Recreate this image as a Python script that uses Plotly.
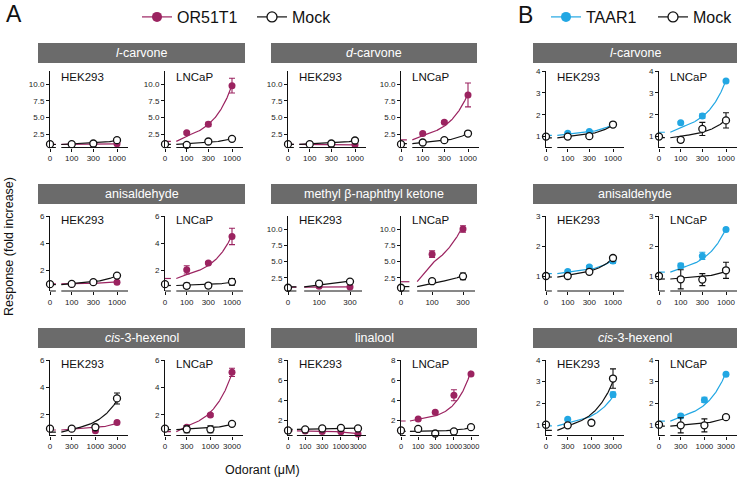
import numpy as np
import plotly.graph_objects as go

W, H = 739, 486

# ---------------- data (fold increase, mean and error) ----------------
conc_carvone = [0, 100, 300, 1000]
conc_mnk = [0, 100, 300]
conc_hexenol = [0, 300, 1000, 3000]
conc_linalool = [0, 100, 300, 1000, 3000]

# Panel A : OR51T1 vs Mock
lcarv_hek_or = [1.0, 0.95, 0.95, 1.05];   lcarv_hek_or_err = [0, 0.05, 0.05, 0.08]
lcarv_hek_mock = [1.0, 1.0, 1.1, 1.6];    lcarv_hek_mock_err = [0, 0.05, 0.05, 0.1]
lcarv_lnc_or = [1.0, 2.7, 4.0, 9.8];      lcarv_lnc_or_err = [0, 0.2, 0.3, 1.1]
lcarv_lnc_mock = [1.0, 0.9, 1.4, 1.8];    lcarv_lnc_mock_err = [0, 0.1, 0.15, 0.2]

dcarv_hek_or = [1.0, 1.0, 0.9, 0.9];      dcarv_hek_or_err = [0, 0.05, 0.05, 0.05]
dcarv_hek_mock = [1.0, 1.0, 1.1, 1.55];   dcarv_hek_mock_err = [0, 0.05, 0.05, 0.1]
dcarv_lnc_or = [1.0, 2.6, 4.3, 8.4];      dcarv_lnc_or_err = [0, 0.2, 0.2, 1.8]
dcarv_lnc_mock = [1.0, 1.25, 1.6, 2.6];   dcarv_lnc_mock_err = [0, 0.1, 0.25, 0.15]

anis_hek_or = [1.0, 1.0, 1.15, 1.15];     anis_hek_or_err = [0, 0.05, 0.05, 0.08]
anis_hek_mock = [1.0, 1.02, 1.15, 1.63];  anis_hek_mock_err = [0, 0.05, 0.05, 0.08]
anis_lnc_or = [1.0, 2.05, 2.56, 4.5];     anis_lnc_or_err = [0, 0.3, 0.1, 0.6]
anis_lnc_mock = [1.0, 0.88, 0.9, 1.17];   anis_lnc_mock_err = [0, 0.2, 0.15, 0.25]

mnk_hek_or = [1.0, 1.23, 1.1];            mnk_hek_or_err = [0, 0.05, 0.05]
mnk_hek_mock = [1.0, 1.64, 1.94];         mnk_hek_mock_err = [0, 0.1, 0.1]
mnk_lnc_or = [1.0, 6.15, 10.0];           mnk_lnc_or_err = [0, 0.5, 0.5]
mnk_lnc_mock = [1.0, 2.0, 2.75];          mnk_lnc_mock_err = [0, 0.3, 0.5]

hex_hek_or = [1.0, 1.0, 0.85, 1.45];      hex_hek_or_err = [0, 0.05, 0.05, 0.08]
hex_hek_mock = [1.0, 1.0, 1.1, 3.2];      hex_hek_mock_err = [0, 0.05, 0.1, 0.4]
hex_lnc_or = [1.0, 1.1, 2.0, 5.1];        hex_lnc_or_err = [0, 0.1, 0.1, 0.3]
hex_lnc_mock = [1.0, 0.95, 0.95, 1.35];   hex_lnc_mock_err = [0, 0.25, 0.25, 0.08]

lin_hek_or = [1.0, 0.95, 0.9, 0.88, 0.65];   lin_hek_or_err = [0, 0.05, 0.05, 0.05, 0.05]
lin_hek_mock = [1.0, 1.1, 1.2, 1.25, 1.2];   lin_hek_mock_err = [0, 0.05, 0.05, 0.05, 0.05]
lin_lnc_or = [1.0, 2.13, 2.8, 4.5, 6.6];     lin_lnc_or_err = [0, 0.1, 0.1, 0.55, 0.1]
lin_lnc_mock = [1.0, 1.15, 0.7, 0.9, 1.33];  lin_lnc_mock_err = [0, 0.05, 0.05, 0.1, 0.1]

# Panel B : TAAR1 vs Mock
b_lcarv_hek_ta = [1.0, 1.15, 1.23, 1.55];   b_lcarv_hek_ta_err = [0, 0.05, 0.05, 0.05]
b_lcarv_hek_mock = [1.0, 1.0, 1.02, 1.55];  b_lcarv_hek_mock_err = [0, 0.04, 0.08, 0.06]
b_lcarv_lnc_ta = [1.0, 1.63, 1.94, 3.54];   b_lcarv_lnc_ta_err = [0, 0.05, 0.1, 0.05]
b_lcarv_lnc_mock = [1.0, 0.85, 1.35, 1.74]; b_lcarv_lnc_mock_err = [0, 0.12, 0.3, 0.35]

b_anis_hek_ta = [1.0, 1.15, 1.3, 1.5];      b_anis_hek_ta_err = [0, 0.04, 0.05, 0.08]
b_anis_hek_mock = [1.0, 1.0, 1.14, 1.6];    b_anis_hek_mock_err = [0, 0.03, 0.03, 0.05]
b_anis_lnc_ta = [1.0, 1.34, 1.67, 2.55];    b_anis_lnc_ta_err = [0, 0.08, 0.12, 0.04]
b_anis_lnc_mock = [1.0, 0.89, 0.88, 1.19];  b_anis_lnc_mock_err = [0, 0.32, 0.2, 0.27]

b_hex_hek_ta = [1.0, 1.25, 1.1, 2.4];       b_hex_hek_ta_err = [0, 0.05, 0.05, 0.12]
b_hex_hek_mock = [1.0, 0.97, 1.09, 3.14];   b_hex_hek_mock_err = [0, 0.05, 0.05, 0.45]
b_hex_lnc_ta = [1.0, 1.4, 2.15, 3.34];      b_hex_lnc_ta_err = [0, 0.08, 0.12, 0.04]
b_hex_lnc_mock = [1.0, 0.97, 0.97, 1.35];   b_hex_lnc_mock_err = [0, 0.35, 0.3, 0.07]

# tick sets
yt_big = [2.5, 5.0, 7.5, 10.0]; yt_big_txt = ['2.5', '5.0', '7.5', '10.0']
yt_6 = [2, 4, 6]
yt_8 = [2, 4, 6, 8]
yt_3 = [1, 2, 3]
yt_4 = [1, 2, 3, 4]

titles = [
    ['<i>l</i>-carvone', '<i>d</i>-carvone', '<i>l</i>-carvone'],
    ['anisaldehyde', 'methyl β-naphthyl ketone', 'anisaldehyde'],
    ['<i>cis</i>-3-hexenol', 'linalool', '<i>cis</i>-3-hexenol'],
]
cells = ['HEK293', 'LNCaP']

# ---------------- styles / geometry ----------------
PURPLE = '#9b2360'
CYAN = '#22a7e3'
BLACK = '#111111'
FONT = 'Liberation Sans, Arial, Helvetica, sans-serif'
GRAY = '#6b6b6b'

GROUP_AX_X = [(50, 165), (288, 401), (546, 659)]
AX_W_BY_N = {3: 74, 4: 78, 5: 78}
LAST_TICK_BY_N = {3: 62, 4: 67, 5: 70}
XFONT_BY_N = {3: 8, 4: 8, 5: 7.5}
ROWS = [(71, 147.5), (216, 291), (360, 435.5)]
BARS_X = [(38, 245), (271, 477), (533, 737)]
BARS_Y = [(43, 63), (184, 204), (328, 348)]
LABEL_Y = [77, 219.5, 364]
P0 = -0.48


def S(vals, err, kind):
    return dict(v=vals, e=err, kind=kind)


def ypx(y):
    return 1 - y / H


panels = []
def add(g, r, c, conc, yr, yt, ytt, s1, s2):
    panels.append(dict(g=g, r=r, c=c, conc=conc, yr=yr, yt=yt, ytt=ytt, series=[s1, s2]))

# row 0
add(0, 0, 0, conc_carvone, [0.5, 12], yt_big, yt_big_txt, S(lcarv_hek_or, lcarv_hek_or_err, 'or'), S(lcarv_hek_mock, lcarv_hek_mock_err, 'mock'))
add(0, 0, 1, conc_carvone, [0.5, 12], yt_big, yt_big_txt, S(lcarv_lnc_or, lcarv_lnc_or_err, 'or'), S(lcarv_lnc_mock, lcarv_lnc_mock_err, 'mock'))
add(1, 0, 0, conc_carvone, [0.5, 12], yt_big, yt_big_txt, S(dcarv_hek_or, dcarv_hek_or_err, 'or'), S(dcarv_hek_mock, dcarv_hek_mock_err, 'mock'))
add(1, 0, 1, conc_carvone, [0.5, 12], yt_big, yt_big_txt, S(dcarv_lnc_or, dcarv_lnc_or_err, 'or'), S(dcarv_lnc_mock, dcarv_lnc_mock_err, 'mock'))
add(2, 0, 0, conc_carvone, [0.5, 4], yt_4, None, S(b_lcarv_hek_ta, b_lcarv_hek_ta_err, 'ta'), S(b_lcarv_hek_mock, b_lcarv_hek_mock_err, 'mock'))
add(2, 0, 1, conc_carvone, [0.5, 4], yt_4, None, S(b_lcarv_lnc_ta, b_lcarv_lnc_ta_err, 'ta'), S(b_lcarv_lnc_mock, b_lcarv_lnc_mock_err, 'mock'))
# row 1
add(0, 1, 0, conc_carvone, [0.5, 6], yt_6, None, S(anis_hek_or, anis_hek_or_err, 'or'), S(anis_hek_mock, anis_hek_mock_err, 'mock'))
add(0, 1, 1, conc_carvone, [0.5, 6], yt_6, None, S(anis_lnc_or, anis_lnc_or_err, 'or'), S(anis_lnc_mock, anis_lnc_mock_err, 'mock'))
add(1, 1, 0, conc_mnk, [0.5, 12], yt_big, yt_big_txt, S(mnk_hek_or, mnk_hek_or_err, 'or'), S(mnk_hek_mock, mnk_hek_mock_err, 'mock'))
add(1, 1, 1, conc_mnk, [0.5, 12], yt_big, yt_big_txt, S(mnk_lnc_or, mnk_lnc_or_err, 'or'), S(mnk_lnc_mock, mnk_lnc_mock_err, 'mock'))
add(2, 1, 0, conc_carvone, [0.5, 3], yt_3, None, S(b_anis_hek_ta, b_anis_hek_ta_err, 'ta'), S(b_anis_hek_mock, b_anis_hek_mock_err, 'mock'))
add(2, 1, 1, conc_carvone, [0.5, 3], yt_3, None, S(b_anis_lnc_ta, b_anis_lnc_ta_err, 'ta'), S(b_anis_lnc_mock, b_anis_lnc_mock_err, 'mock'))
# row 2
add(0, 2, 0, conc_hexenol, [0.5, 6], yt_6, None, S(hex_hek_or, hex_hek_or_err, 'or'), S(hex_hek_mock, hex_hek_mock_err, 'mock'))
add(0, 2, 1, conc_hexenol, [0.5, 6], yt_6, None, S(hex_lnc_or, hex_lnc_or_err, 'or'), S(hex_lnc_mock, hex_lnc_mock_err, 'mock'))
add(1, 2, 0, conc_linalool, [0.5, 8], yt_8, None, S(lin_hek_or, lin_hek_or_err, 'or'), S(lin_hek_mock, lin_hek_mock_err, 'mock'))
add(1, 2, 1, conc_linalool, [0.5, 8], yt_8, None, S(lin_lnc_or, lin_lnc_or_err, 'or'), S(lin_lnc_mock, lin_lnc_mock_err, 'mock'))
add(2, 2, 0, conc_hexenol, [0.5, 4], yt_4, None, S(b_hex_hek_ta, b_hex_hek_ta_err, 'ta'), S(b_hex_hek_mock, b_hex_hek_mock_err, 'mock'))
add(2, 2, 1, conc_hexenol, [0.5, 4], yt_4, None, S(b_hex_lnc_ta, b_hex_lnc_ta_err, 'ta'), S(b_hex_lnc_mock, b_hex_lnc_mock_err, 'mock'))

COLORS = {'or': PURPLE, 'ta': CYAN, 'mock': BLACK}

fig = go.Figure()
layout = {}
shapes = []
annotations = []

for i, pnl in enumerate(panels, start=1):
    xs_name = 'x' if i == 1 else f'x{i}'
    ys_name = 'y' if i == 1 else f'y{i}'
    conc = pnl['conc']
    n = len(conc)
    first = conc[1]
    pos = [P0 if c == 0 else float(np.log10(c / first)) for c in conc]
    p_last = pos[-1]
    aw = AX_W_BY_N[n]
    right = P0 + (p_last - P0) * aw / LAST_TICK_BY_N[n]
    d = -P0
    gap_s, gap_e = P0 + 0.27 * d, P0 + 0.52 * d

    ax_x = GROUP_AX_X[pnl['g']][pnl['c']]
    top, bot = ROWS[pnl['r']]
    layout['xaxis' if i == 1 else f'xaxis{i}'] = dict(
        domain=[ax_x / W, (ax_x + aw) / W], range=[P0, right],
        anchor=ys_name, tickmode='array', tickvals=pos, ticktext=[str(c) for c in conc],
        ticks='outside', ticklen=3, tickwidth=1, tickcolor=BLACK, tickangle=0,
        automargin=False,
        showline=False, showgrid=False, zeroline=False, fixedrange=True,
        tickfont=dict(size=XFONT_BY_N[n], color='#222', family=FONT))
    layout['yaxis' if i == 1 else f'yaxis{i}'] = dict(
        domain=[ypx(bot), ypx(top)], range=pnl['yr'], anchor=xs_name,
        tickmode='array', tickvals=pnl['yt'],
        ticktext=pnl['ytt'] if pnl['ytt'] else [str(v) for v in pnl['yt']],
        ticks='outside', ticklen=3, tickwidth=1, tickcolor=BLACK, automargin=False,
        showline=True, linecolor=BLACK, linewidth=1, showgrid=False, zeroline=False,
        fixedrange=True, tickfont=dict(size=8, color='#222', family=FONT))

    # broken x axis
    for x0, x1 in [(P0, gap_s), (gap_e, right)]:
        shapes.append(dict(type='line', xref=xs_name, yref=f'{ys_name} domain',
                           x0=x0, x1=x1, y0=0, y1=0, line=dict(color=BLACK, width=1)))

    # fit lines (least-squares linear regression on the plotted means)
    for s in pnl['series']:
        b, a = np.polyfit(conc, s['v'], 1)
        ps = np.linspace(gap_e, p_last, 150)
        xc = np.where(ps >= 0, first * 10 ** ps, first * (ps - gap_e) / (0 - gap_e))
        col = COLORS[s['kind']]
        fig.add_trace(go.Scatter(x=ps, y=a + b * xc, mode='lines', xaxis=xs_name, yaxis=ys_name,
                                 line=dict(color=col, width=1.2), showlegend=False,
                                 hoverinfo='skip', cliponaxis=False))
        fig.add_trace(go.Scatter(x=[P0, gap_s], y=[a, a], mode='lines', xaxis=xs_name, yaxis=ys_name,
                                 line=dict(color=col, width=1.2), showlegend=False,
                                 hoverinfo='skip', cliponaxis=False))
    # markers (receptor first, mock on top)
    for s in pnl['series']:
        col = COLORS[s['kind']]
        if s['kind'] == 'mock':
            mk = dict(size=7, color='white', line=dict(color=BLACK, width=1.3))
        else:
            mk = dict(size=7, color=col, line=dict(color=col, width=0))
        fig.add_trace(go.Scatter(
            x=pos, y=s['v'], mode='markers', xaxis=xs_name, yaxis=ys_name, marker=mk,
            error_y=dict(type='data', array=s['e'], visible=True, color=col, thickness=1.1, width=3),
            showlegend=False, cliponaxis=False))

    # cell label
    annotations.append(dict(text=cells[pnl['c']], x=(ax_x + 9) / W, y=ypx(LABEL_Y[pnl['r']]),
                            xref='paper', yref='paper', xanchor='left', yanchor='middle',
                            showarrow=False, font=dict(size=11.5, color='#111', family=FONT)))

# header bars
for r in range(3):
    for g in range(3):
        x0, x1 = BARS_X[g]
        y0, y1 = BARS_Y[r]
        shapes.append(dict(type='rect', xref='paper', yref='paper', x0=x0 / W, x1=x1 / W,
                           y0=ypx(y1), y1=ypx(y0), fillcolor=GRAY, line=dict(width=0), layer='below'))
        annotations.append(dict(text=titles[r][g], x=(x0 + x1) / 2 / W, y=ypx((y0 + y1) / 2),
                                xref='paper', yref='paper', xanchor='center', yanchor='middle',
                                showarrow=False, font=dict(size=12.5, color='white', family=FONT)))

# panel letters and axis titles
annotations += [
    dict(text='A', x=4 / W, y=ypx(14), xref='paper', yref='paper', xanchor='left', yanchor='middle',
         showarrow=False, font=dict(size=23, color='#111', family=FONT)),
    dict(text='B', x=516 / W, y=ypx(15), xref='paper', yref='paper', xanchor='left', yanchor='middle',
         showarrow=False, font=dict(size=23, color='#111', family=FONT)),
    dict(text='Response (fold increase)', x=9 / W, y=ypx(247), xref='paper', yref='paper',
         xanchor='center', yanchor='middle', textangle=-90, showarrow=False,
         font=dict(size=12.5, color='#111', family=FONT)),
    dict(text='Odorant (μM)', x=262 / W, y=ypx(470), xref='paper', yref='paper',
         xanchor='center', yanchor='middle', showarrow=False,
         font=dict(size=12.5, color='#111', family=FONT)),
]

# legend entries
leg_items = [('OR51T1', 'or', 'legend'), ('Mock', 'mock', 'legend'),
             ('TAAR1', 'ta', 'legend2'), ('Mock', 'mock', 'legend2')]
for name, kind, lg in leg_items:
    col = COLORS[kind]
    if kind == 'mock':
        mk = dict(size=10, color='white', line=dict(color=BLACK, width=1.3))
    else:
        mk = dict(size=10, color=col)
    fig.add_trace(go.Scatter(x=[None], y=[None], mode='lines+markers', name=name, legend=lg,
                             marker=mk, line=dict(color=col, width=1.2), showlegend=True))

fig.update_layout(
    width=W, height=H, margin=dict(l=0, r=0, t=0, b=0, pad=0, autoexpand=False),
    autosize=False,
    paper_bgcolor='white', plot_bgcolor='white',
    font=dict(family=FONT, color='#111'),
    shapes=shapes, annotations=annotations,
    legend=dict(x=137 / W, y=ypx(17), xanchor='left', yanchor='middle', orientation='h',
                font=dict(size=16, family=FONT, color='#111'), bgcolor='rgba(0,0,0,0)',
                itemwidth=30, entrywidth=70),
    legend2=dict(x=546 / W, y=ypx(17), xanchor='left', yanchor='middle', orientation='h',
                 font=dict(size=16, family=FONT, color='#111'), bgcolor='rgba(0,0,0,0)',
                 itemwidth=30, entrywidth=62),
    **layout,
)

fig.write_html('out.html', config={'responsive': False, 'displayModeBar': False},
               post_script="document.body.style.margin='0';document.body.style.overflow='hidden';")
